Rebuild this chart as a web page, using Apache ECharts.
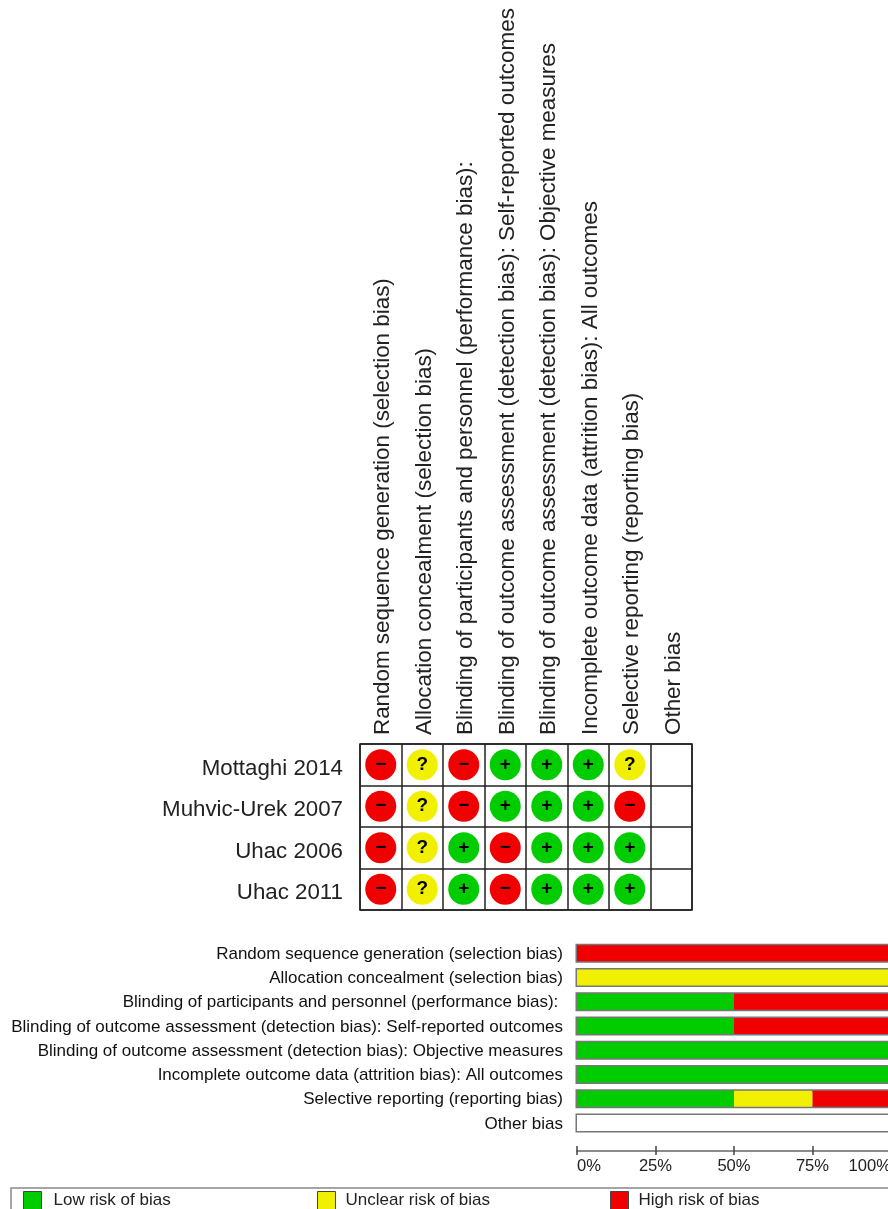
<!DOCTYPE html>
<html>
<head>
<meta charset="utf-8">
<title>Risk of bias</title>
<script src="https://cdn.jsdelivr.net/npm/echarts@6/dist/echarts.min.js"></script>
<style>
html, body { margin: 0; padding: 0; background: #fff; }
#main { width: 888px; height: 1209px; }
</style>
</head>
<body>
<div id="main"></div>
<script>
var domains = [
    'Random sequence generation (selection bias)',
    'Allocation concealment (selection bias)',
    'Blinding of participants and personnel (performance bias): ',
    'Blinding of outcome assessment (detection bias): Self-reported outcomes',
    'Blinding of outcome assessment (detection bias): Objective measures',
    'Incomplete outcome data (attrition bias): All outcomes',
    'Selective reporting (reporting bias)',
    'Other bias'
];
var studies = ['Mottaghi 2014', 'Muhvic-Urek 2007', 'Uhac 2006', 'Uhac 2011'];

// one judgement per domain, '' = not assessed
var mottaghi2014 = ['-', '?', '-', '+', '+', '+', '?', ''];
var muhvicUrek2007 = ['-', '?', '-', '+', '+', '+', '-', ''];
var uhac2006 = ['-', '?', '+', '-', '+', '+', '+', ''];
var uhac2011 = ['-', '?', '+', '-', '+', '+', '+', ''];
var judgements = [mottaghi2014, muhvicUrek2007, uhac2006, uhac2011];

// percent of studies per domain
var lowRisk = [0, 0, 50, 50, 100, 100, 50, 0];
var unclearRisk = [0, 100, 0, 0, 0, 0, 25, 0];
var highRisk = [100, 0, 50, 50, 0, 0, 25, 0];
var notAssessed = [0, 0, 0, 0, 0, 0, 0, 100];

var GREEN = '#00cc00', YELLOW = '#f0f000', RED = '#f00000';
var FONT = '"Liberation Sans", Arial, sans-serif';
var judgeColors = { '+': GREEN, '?': YELLOW, '-': RED };
var judgeText = { '+': '+', '?': '?', '-': '\u2212' };

var points = [];
judgements.forEach(function (row, r) {
    row.forEach(function (j, c) {
        if (j) {
            points.push({ value: [c, r, j], itemStyle: { color: judgeColors[j], opacity: 1 } });
        }
    });
});

function legendAt(name, left, textGap, extra) {
    var l = {
        data: [name],
        left: left,
        top: 1188,
        padding: [3, 0, 0, 0],
        itemWidth: 18,
        itemHeight: 18,
        icon: 'rect',
        selectedMode: false,
        itemStyle: { borderColor: '#444', borderWidth: 1 },
        textStyle: { fontFamily: FONT, fontSize: 17, color: '#222', padding: [0, 0, 0, textGap] }
    };
    return Object.assign(l, extra || {});
}

// axis labels sit a little off the band centre, so nudge them with a rich token
function nudged(value) {
    return '{a|' + value + '}';
}

var dom = document.getElementById('main');
var myChart = echarts.init(dom);

var option = {
    animation: false,
    backgroundColor: '#fff',
    textStyle: { fontFamily: FONT },
    legend: [
        // first one carries the frame, which runs off the page
        legendAt('Low risk of bias', 11, 7, { width: 1500, padding: [3, 900, 30, 12], borderColor: '#888', borderWidth: 1.5 }),
        legendAt('Unclear risk of bias', 317, 5),
        legendAt('High risk of bias', 610, 5)
    ],
    grid: [
        { left: 360, top: 744, width: 332, height: 166, show: true, borderColor: '#222', borderWidth: 1.5, backgroundColor: '#fff', outerBoundsMode: 'none' },
        { left: 577, top: 941, width: 314, height: 194, outerBoundsMode: 'none' }
    ],
    xAxis: [
        {
            type: 'category',
            gridIndex: 0,
            position: 'top',
            data: domains,
            axisLine: { show: false },
            axisTick: { show: false },
            splitLine: { show: true, interval: 0, lineStyle: { color: '#222', width: 1.5 } },
            axisLabel: {
                interval: 0,
                rotate: -90,
                margin: 9,
                formatter: nudged,
                rich: { a: { fontSize: 22.4, fontFamily: FONT, color: '#222', padding: [5, 0, 0, 0] } }
            }
        },
        {
            type: 'value',
            gridIndex: 1,
            min: 0,
            max: 100,
            interval: 25,
            position: 'bottom',
            offset: 16,
            splitLine: { show: false },
            axisLine: { show: true, lineStyle: { color: '#666', width: 1.5 } },
            axisTick: { show: true, length: 4, lineStyle: { color: '#444', width: 1.5 } },
            axisLabel: {
                margin: 7,
                fontSize: 16.6,
                fontFamily: FONT,
                color: '#222',
                alignMinLabel: 'left',
                alignMaxLabel: 'right',
                formatter: '{value}%'
            }
        },
        {
            // upper half of the ticks
            type: 'value',
            gridIndex: 1,
            min: 0,
            max: 100,
            interval: 25,
            position: 'bottom',
            offset: 16,
            splitLine: { show: false },
            axisLine: { show: false },
            axisTick: { show: true, inside: true, length: 5, lineStyle: { color: '#444', width: 1.5 } },
            axisLabel: { show: false }
        }
    ],
    yAxis: [
        {
            type: 'category',
            gridIndex: 0,
            inverse: true,
            data: studies,
            axisLine: { show: false },
            axisTick: { show: false },
            splitLine: { show: true, interval: 0, lineStyle: { color: '#222', width: 1.5 } },
            axisLabel: {
                interval: 0,
                margin: 17,
                formatter: nudged,
                rich: { a: { fontSize: 22.3, fontFamily: FONT, color: '#222', padding: [8, 0, 0, 0] } }
            }
        },
        {
            type: 'category',
            gridIndex: 1,
            inverse: true,
            data: domains,
            axisLine: { show: false },
            axisTick: { show: false },
            splitLine: { show: false },
            axisLabel: {
                interval: 0,
                margin: 14,
                formatter: nudged,
                rich: { a: { fontSize: 17, fontFamily: FONT, color: '#111', padding: [2, 0, 0, 0] } }
            }
        }
    ],
    series: [
        {
            name: 'Judgements',
            type: 'scatter',
            xAxisIndex: 0,
            yAxisIndex: 0,
            symbol: 'circle',
            symbolSize: 31,
            data: points,
            label: {
                show: true,
                position: 'inside',
                fontFamily: FONT,
                fontSize: 19,
                fontWeight: 'bold',
                color: '#000',
                formatter: function (p) { return judgeText[p.value[2]]; }
            }
        },
        {
            name: 'Low risk of bias',
            type: 'bar',
            xAxisIndex: 1,
            yAxisIndex: 1,
            stack: 'bias',
            barWidth: 16,
            showBackground: true,
            backgroundStyle: { color: '#fff', borderColor: '#777', borderWidth: 3 },
            itemStyle: { color: GREEN },
            data: lowRisk
        },
        {
            name: 'Unclear risk of bias',
            type: 'bar',
            xAxisIndex: 1,
            yAxisIndex: 1,
            stack: 'bias',
            barWidth: 16,
            itemStyle: { color: YELLOW },
            data: unclearRisk
        },
        {
            name: 'High risk of bias',
            type: 'bar',
            xAxisIndex: 1,
            yAxisIndex: 1,
            stack: 'bias',
            barWidth: 16,
            itemStyle: { color: RED },
            data: highRisk
        },
        {
            name: 'Not assessed',
            type: 'bar',
            xAxisIndex: 1,
            yAxisIndex: 1,
            stack: 'bias',
            barWidth: 16,
            itemStyle: { color: '#fff' },
            data: notAssessed
        }
    ]
};

myChart.setOption(option, true);
</script>
</body>
</html>
